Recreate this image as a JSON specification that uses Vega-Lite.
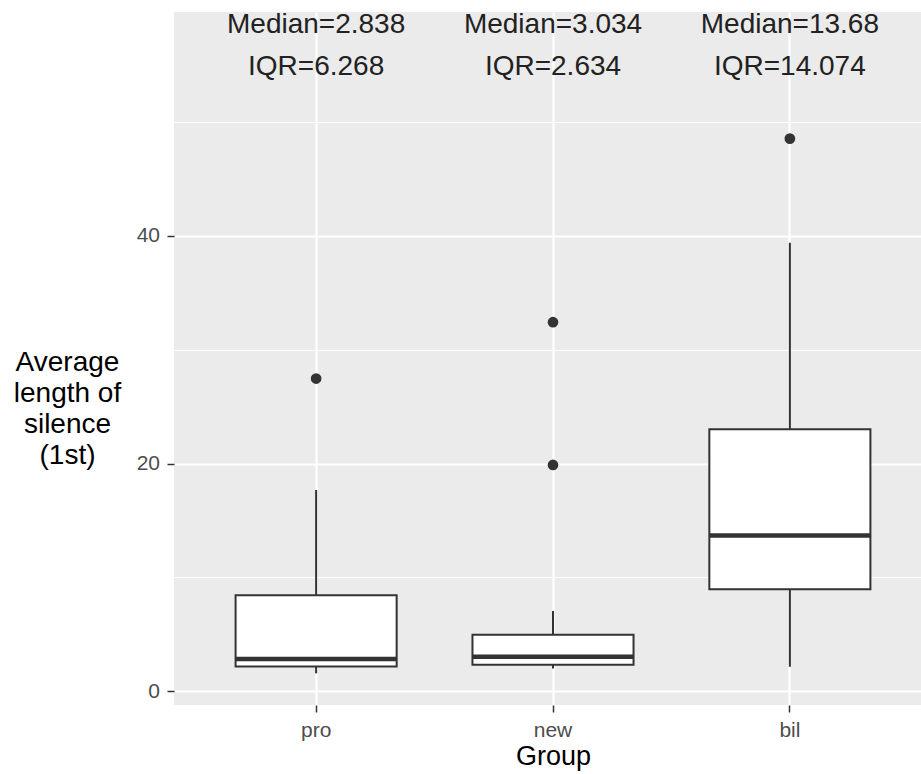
{
  "$schema": "https://vega.github.io/schema/vega-lite/v6.json",
  "autosize": {"type": "none"},
  "padding": {"left": 174, "top": 12, "right": 0, "bottom": 69},
  "width": 758,
  "height": 693,
  "background": "white",
  "config": {
    "font": "Liberation Sans",
    "view": {"fill": "#EBEBEB", "stroke": null}
  },
  "datasets": {
    "boxes": [
      {"group": "pro", "lower": 1.57, "q1": 2.17, "median": 2.838, "q3": 8.44, "upper": 17.68, "iqr": 6.268, "median_label": "Median=2.838", "iqr_label": "IQR=6.268"},
      {"group": "new", "lower": 2.0, "q1": 2.33, "median": 3.034, "q3": 4.96, "upper": 7.05, "iqr": 2.634, "median_label": "Median=3.034", "iqr_label": "IQR=2.634"},
      {"group": "bil", "lower": 2.15, "q1": 8.95, "median": 13.68, "q3": 23.02, "upper": 39.4, "iqr": 14.074, "median_label": "Median=13.68", "iqr_label": "IQR=14.074"}
    ],
    "outliers": [
      {"group": "pro", "value": 27.47},
      {"group": "new", "value": 32.42},
      {"group": "new", "value": 19.88},
      {"group": "bil", "value": 48.55}
    ]
  },
  "encoding": {
    "x": {
      "field": "group",
      "type": "nominal",
      "sort": ["pro", "new", "bil"],
      "scale": {"domain": ["pro", "new", "bil"], "paddingInner": 0, "paddingOuter": 0.1},
      "axis": {
        "title": "Group",
        "titleFontSize": 27,
        "titleFontWeight": "normal",
        "titleColor": "#000000",
        "titleBaseline": "alphabetic",
        "titleY": 59,
        "labelAngle": 0,
        "labelFontSize": 21,
        "labelColor": "#4D4D4D",
        "labelPadding": 7,
        "tickSize": 7,
        "tickWidth": 1.5,
        "tickColor": "#333333",
        "domain": false,
        "grid": true,
        "gridColor": "#FFFFFF",
        "gridWidth": 2.2,
        "bandPosition": 0.5
      }
    }
  },
  "layer": [
    {
      "data": {"name": "boxes"},
      "mark": {"type": "rule", "color": "#333333", "strokeWidth": 2},
      "encoding": {
        "y": {
          "field": "lower",
          "type": "quantitative",
          "scale": {"domain": [-1.213, 59.68], "nice": false, "zero": false},
          "axis": {
            "values": [0, 10, 20, 30, 40, 50],
            "labelExpr": "datum.value % 20 === 0 ? datum.label : ''",
            "labelFontSize": 21,
            "labelColor": "#4D4D4D",
            "labelPadding": 7.5,
            "tickSize": 7,
            "tickWidth": 1.5,
            "tickColor": "#333333",
            "tickOpacity": {"condition": {"test": "datum.value % 20 === 0", "value": 1}, "value": 0},
            "domain": false,
            "grid": true,
            "gridColor": "#FFFFFF",
            "gridWidth": {"condition": {"test": "datum.value % 20 === 0", "value": 2.2}, "value": 1.1},
            "title": ["Average", "length of", "silence", "(1st)"],
            "titleAngle": 0,
            "titleAlign": "center",
            "titleBaseline": "middle",
            "titleFontSize": 28,
            "titleFontWeight": "normal",
            "titleColor": "#000000",
            "titleLineHeight": 31.3,
            "titleX": -107,
            "titleY": 350
          }
        },
        "y2": {"field": "upper"}
      }
    },
    {
      "data": {"name": "boxes"},
      "mark": {"type": "bar", "fill": "#FFFFFF", "stroke": "#333333", "strokeWidth": 2, "width": {"band": 0.68}},
      "encoding": {
        "y": {"field": "q1", "type": "quantitative"},
        "y2": {"field": "q3"}
      }
    },
    {
      "data": {"name": "boxes"},
      "mark": {"type": "tick", "color": "#333333", "size": 161, "thickness": 4.5, "opacity": 1},
      "encoding": {
        "y": {"field": "median", "type": "quantitative"}
      }
    },
    {
      "data": {"name": "outliers"},
      "mark": {"type": "point", "filled": true, "color": "#333333", "size": 115, "opacity": 1},
      "encoding": {
        "y": {"field": "value", "type": "quantitative"}
      }
    },
    {
      "data": {"name": "boxes"},
      "mark": {"type": "text", "fontSize": 28, "color": "#222222", "baseline": "alphabetic", "align": "center"},
      "encoding": {
        "y": {"datum": 57.87, "type": "quantitative"},
        "text": {"field": "median_label"}
      }
    },
    {
      "data": {"name": "boxes"},
      "mark": {"type": "text", "fontSize": 28, "color": "#222222", "baseline": "alphabetic", "align": "center"},
      "encoding": {
        "y": {"datum": 54.12, "type": "quantitative"},
        "text": {"field": "iqr_label"}
      }
    }
  ]
}
